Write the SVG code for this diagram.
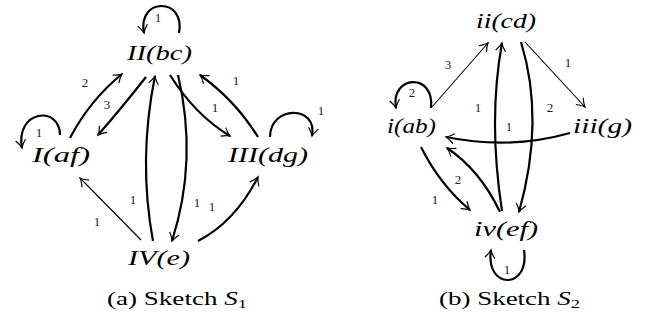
<svg xmlns="http://www.w3.org/2000/svg" width="647" height="325" viewBox="0 0 647 325">
<style>
.n{font-family:"Liberation Serif","Times New Roman",serif;font-style:italic;font-size:22px;fill:#000}
.w{font-family:"Liberation Serif","Times New Roman",serif;font-size:13px;fill:#222}
.c{font-family:"Liberation Serif","Times New Roman",serif;font-size:19px;fill:#000}
.k{fill:none;stroke:#000;stroke-width:2.2}
.t{fill:none;stroke:#000;stroke-width:1.1}
</style>
<defs>
<marker id="a" markerUnits="userSpaceOnUse" markerWidth="16" markerHeight="16" refX="0" refY="0" viewBox="-10 -8 12 16" orient="auto" overflow="visible">
<path d="M-8,-5 Q-3,-1 0,0 Q-3,1 -8,5" fill="none" stroke="#000" stroke-width="1.2"/>
</marker>
</defs>
<rect width="647" height="325" fill="#fff"/>
<g id="connectors">
<path class="k" d="M70,138 Q90,100 122,74" marker-end="url(#a)"/>
<path class="k" d="M146,77 Q120,110 98,135" marker-end="url(#a)"/>
<path class="k" d="M170,75 Q195,115 230,136" marker-end="url(#a)"/>
<path class="k" d="M258,137 Q235,100 200,75" marker-end="url(#a)"/>
<path class="k" d="M153,241 Q138,160 155,76" marker-end="url(#a)"/>
<path class="k" d="M178,75 Q198,160 172,241" marker-end="url(#a)"/>
<path class="k" d="M198,241 Q235,222 258,177" marker-end="url(#a)"/>
<path class="t" d="M141,240 L80,178" marker-end="url(#a)"/>
<path class="k" d="M179,33 C186,-3 137,-3 144,33" marker-end="url(#a)"/>
<path class="k" d="M60,135 C60,105 15,110 22,148" marker-end="url(#a)"/>
<path class="k" d="M270,137 C270,105 318,105 312,136" marker-end="url(#a)"/>
<path class="t" d="M432,107 L488,43" marker-end="url(#a)"/>
<path class="t" d="M525,42 L585,107" marker-end="url(#a)"/>
<path class="k" d="M431,108 C435,72 390,75 396,108" marker-end="url(#a)"/>
<path class="k" d="M502,211 Q488,120 502,43" marker-end="url(#a)"/>
<path class="k" d="M521,42 Q545,120 519,212" marker-end="url(#a)"/>
<path class="k" d="M570,133 Q510,150 446,137" marker-end="url(#a)"/>
<path class="k" d="M500,212 Q480,170 447,148" marker-end="url(#a)"/>
<path class="k" d="M421,147 Q440,185 470,210" marker-end="url(#a)"/>
<path class="k" d="M524,250 C530,290 485,290 491,250" marker-end="url(#a)"/>
</g>
<g id="weights">
<text class="w" x="158" y="22" text-anchor="middle">1</text>
<text class="w" x="39" y="137" text-anchor="middle">1</text>
<text class="w" x="321" y="115" text-anchor="middle">1</text>
<text class="w" x="85" y="87" text-anchor="middle">2</text>
<text class="w" x="107" y="109" text-anchor="middle">3</text>
<text class="w" x="236" y="85" text-anchor="middle">1</text>
<text class="w" x="215" y="112" text-anchor="middle">1</text>
<text class="w" x="133" y="204" text-anchor="middle">1</text>
<text class="w" x="197" y="207" text-anchor="middle">1</text>
<text class="w" x="212" y="211" text-anchor="middle">1</text>
<text class="w" x="97" y="226" text-anchor="middle">1</text>
<text class="w" x="448" y="69" text-anchor="middle">3</text>
<text class="w" x="568" y="67" text-anchor="middle">1</text>
<text class="w" x="412" y="97" text-anchor="middle">2</text>
<text class="w" x="478" y="112" text-anchor="middle">1</text>
<text class="w" x="550" y="112" text-anchor="middle">2</text>
<text class="w" x="509" y="131" text-anchor="middle">1</text>
<text class="w" x="458" y="184" text-anchor="middle">2</text>
<text class="w" x="435" y="204" text-anchor="middle">1</text>
<text class="w" x="507" y="274" text-anchor="middle">1</text>
</g>
<g id="II"><text class="n" x="127" y="60" textLength="65" lengthAdjust="spacingAndGlyphs">II(bc)</text></g>
<g id="I"><text class="n" x="32" y="162" textLength="58" lengthAdjust="spacingAndGlyphs">I(af)</text></g>
<g id="III"><text class="n" x="228" y="162" textLength="80" lengthAdjust="spacingAndGlyphs">III(dg)</text></g>
<g id="IV"><text class="n" x="128" y="265" textLength="62" lengthAdjust="spacingAndGlyphs">IV(e)</text></g>
<g id="ii"><text class="n" x="476" y="28" textLength="60" lengthAdjust="spacingAndGlyphs">ii(cd)</text></g>
<g id="i"><text class="n" x="387" y="133" textLength="49" lengthAdjust="spacingAndGlyphs">i(ab)</text></g>
<g id="iii"><text class="n" x="573" y="133" textLength="59" lengthAdjust="spacingAndGlyphs">iii(g)</text></g>
<g id="iv"><text class="n" x="474" y="236" textLength="64" lengthAdjust="spacingAndGlyphs">iv(ef)</text></g>
<g id="captions">
<text class="c" x="107" y="305" textLength="140" lengthAdjust="spacingAndGlyphs">(a) Sketch <tspan font-style="italic">S</tspan><tspan font-size="13" dy="3">1</tspan></text>
<text class="c" x="439" y="305" textLength="141" lengthAdjust="spacingAndGlyphs">(b) Sketch <tspan font-style="italic">S</tspan><tspan font-size="13" dy="3">2</tspan></text>
</g>
</svg>
